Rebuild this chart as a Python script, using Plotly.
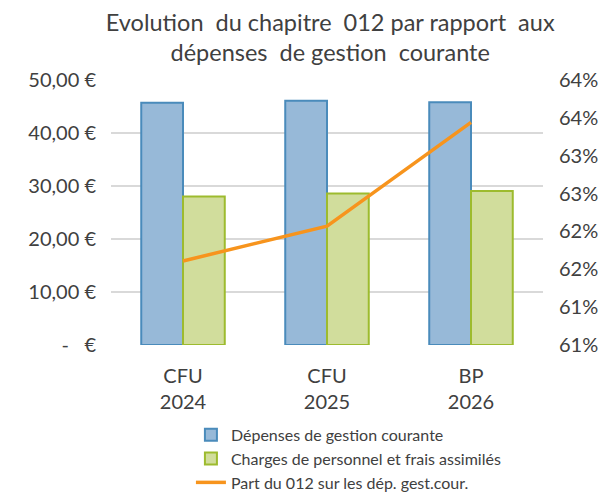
import plotly.graph_objects as go

# data
categories = ["CFU<br>2024", "CFU<br>2025", "BP<br>2026"]
depenses_gestion = [45.7, 46.1, 45.8]
charges_personnel = [28.0, 28.6, 29.05]
part_012 = [61.61, 62.07, 63.44]

left_ticks = [0, 10, 20, 30, 40, 50]
left_labels = ["-   €", "10,00 €", "20,00 €", "30,00 €", "40,00 €", "50,00 €"]
right_ticks = [60.5, 61.0, 61.5, 62.0, 62.5, 63.0, 63.5, 64.0]
right_labels = ["61%", "61%", "62%", "62%", "63%", "63%", "64%", "64%"]

FONT = "Lato, 'Open Sans', sans-serif"

fig = go.Figure()
fig.add_trace(go.Bar(
    x=categories, y=depenses_gestion, name="Dépenses de gestion courante",
    marker=dict(color="#97b9d8", line=dict(color="#4a8bbb", width=2)),
))
fig.add_trace(go.Bar(
    x=categories, y=charges_personnel, name="Charges de personnel et frais assimilés",
    marker=dict(color="#d1dd9c", line=dict(color="#9dbb2e", width=2)),
))
fig.add_trace(go.Scatter(
    x=categories, y=part_012, name="Part du 012 sur les dép. gest.cour.",
    mode="lines", line=dict(color="#f7941d", width=3.5), yaxis="y2",
))

# page body adds an 8px offset, so the figure is drawn 8px smaller
fig.update_layout(
    width=600, height=485,
    margin=dict(l=103, r=65, t=72, b=148, autoexpand=False),
    paper_bgcolor="white", plot_bgcolor="white",
    font=dict(family=FONT, color="#404040", size=20),
    title=dict(
        text="Evolution  du chapitre  012 par rapport  aux<br>dépenses  de gestion  courante",
        x=0.537, xanchor="center", y=0.953, yanchor="top",
        font=dict(size=23.5, color="#404040"),
    ),
    barmode="group", bargap=0.42, bargroupgap=0,
    xaxis=dict(showgrid=False, showline=False, ticks="", tickfont=dict(size=20),
               ticklabelstandoff=17, automargin=False),
    yaxis=dict(
        range=[0, 50], tickvals=left_ticks, ticktext=left_labels,
        showgrid=True, gridcolor="#d9d9d9", gridwidth=1.5, zeroline=False,
        showline=False, ticks="", ticklabelstandoff=14, automargin=False,
    ),
    yaxis2=dict(
        range=[60.5, 64.0], tickvals=right_ticks, ticktext=right_labels,
        overlaying="y", side="right", showgrid=False, zeroline=False,
        showline=False, ticks="", ticklabelstandoff=15, automargin=False,
    ),
    legend=dict(
        x=0.185, y=-0.275, xanchor="left", yanchor="top",
        font=dict(size=16, color="#404040"), tracegroupgap=0,
        traceorder="normal",
    ),
    showlegend=True,
)

fig.write_html("out.html")
